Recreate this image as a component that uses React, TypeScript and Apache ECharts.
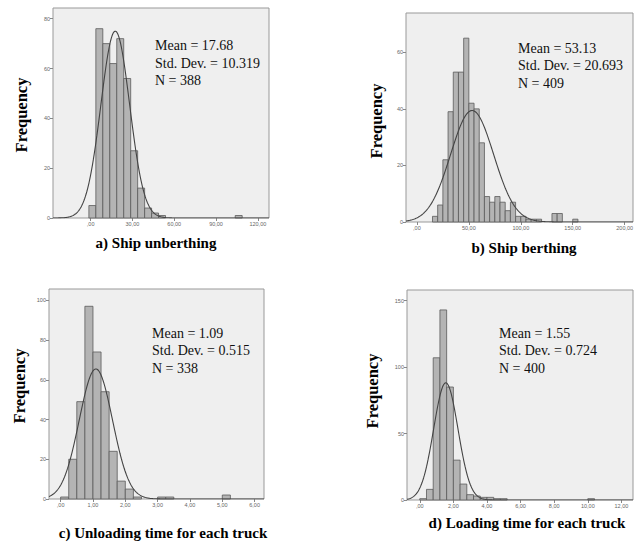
import React, { useEffect, useRef } from "react";
import * as echarts from "echarts";

// ---- Data ----
const captions = [
  "a) Ship unberthing",
  "b) Ship berthing",
  "c) Unloading time for each truck",
  "d) Loading time for each truck",
];
const means = [17.68, 53.13, 1.09, 1.55];
const stdDevs = [10.319, 20.693, 0.515, 0.724];
const sampleSizes = [388, 409, 338, 400];
const binWidths = [5, 5, 0.25, 0.4];

const unberthBinStarts = [-1.25, 3.75, 8.75, 13.75, 18.75, 23.75, 28.75, 33.75, 38.75, 43.75, 48.75, 103.75];
const unberthCounts = [5, 76, 70, 62, 72, 56, 27, 12, 4, 2, 1, 1];

const berthBinStarts = [15, 20, 25, 30, 35, 40, 45, 50, 55, 60, 65, 70, 75, 80, 85, 90, 95, 100, 105, 110, 115, 130, 135, 150];
const berthCounts = [2, 6, 22, 39, 53, 53, 65, 42, 40, 28, 9, 7, 9, 7, 4, 7, 2, 2, 1, 1, 1, 3, 3, 1];

const unloadBinStarts = [0, 0.25, 0.5, 0.75, 1.0, 1.25, 1.5, 1.75, 2.0, 2.25, 3.0, 3.25, 5.0];
const unloadCounts = [1, 20, 49, 97, 74, 54, 24, 9, 5, 1, 1, 1, 2];

const loadBinStarts = [0, 0.4, 0.8, 1.2, 1.6, 2.0, 2.4, 2.8, 3.2, 3.6, 4.0, 4.4, 4.8, 10.0];
const loadCounts = [1, 8, 107, 143, 85, 30, 12, 4, 3, 2, 2, 1, 1, 1];

const xTickValues = [
  [0, 30, 60, 90, 120],
  [0, 50, 100, 150, 200],
  [0, 1, 2, 3, 4, 5, 6],
  [0, 2, 4, 6, 8, 10, 12],
];
const yTickValues = [
  [0, 20, 40, 60, 80],
  [0, 20, 40, 60],
  [0, 20, 40, 60, 80, 100],
  [0, 50, 100, 150],
];
const xRanges = [
  [-27, 128],
  [-10.5, 208],
  [-0.36, 6.29],
  [-0.76, 12.69],
];
const yMaxes = [84.3, 73.9, 105.7, 158];

const binStartsAll = [unberthBinStarts, berthBinStarts, unloadBinStarts, loadBinStarts];
const countsAll = [unberthCounts, berthCounts, unloadCounts, loadCounts];

// ---- Layout ----
const grids = [
  { left: 53, top: 8, width: 216, height: 210 },
  { left: 406, top: 13, width: 227, height: 209 },
  { left: 49, top: 289, width: 215, height: 210 },
  { left: 407, top: 290, width: 226, height: 210 },
];
const freqPos = [
  [21, 115],
  [376, 121],
  [19, 386],
  [372, 391],
];
const captionPos = [
  [156, 243],
  [524, 248],
  [163, 533],
  [527, 523],
];
const statsPos = [
  [155, 37],
  [518, 39.6],
  [152, 324.6],
  [499, 324.6],
];

const SERIF = "'Liberation Serif', 'Times New Roman', serif";

function fmtTick(v: number) {
  if (v === 0) return ",00";
  return v.toFixed(2).replace(".", ",");
}

function normalCurve(i: number) {
  const [lo, hi] = xRanges[i];
  const m = means[i];
  const s = stdDevs[i];
  const scale = (sampleSizes[i] * binWidths[i]) / (s * Math.sqrt(2 * Math.PI));
  const pts: number[][] = [];
  const n = 300;
  for (let k = 0; k <= n; k++) {
    const x = lo + ((hi - lo) * k) / n;
    const z = (x - m) / s;
    pts.push([x, scale * Math.exp(-0.5 * z * z)]);
  }
  return pts;
}

export default function App() {
  const ref = useRef<HTMLDivElement>(null);
  useEffect(() => {
    if (!ref.current) return;
    const chart = echarts.init(ref.current, undefined, { renderer: "svg" });
    const xAxis: any[] = [];
    const yAxis: any[] = [];
    const series: any[] = [];
    const graphic: any[] = [];
    for (let i = 0; i < 4; i++) {
      xAxis.push({
        type: "value",
        gridIndex: i,
        position: "bottom",
        min: xRanges[i][0],
        max: xRanges[i][1],
        axisLine: { show: false, onZero: false },
        splitLine: { show: false },
        axisTick: {
          show: true,
          length: 3,
          lineStyle: { color: "#888" },
          customValues: xTickValues[i],
        },
        axisLabel: {
          customValues: xTickValues[i],
          formatter: (v: number) => fmtTick(v),
          fontSize: 5.5,
          color: "#666",
          margin: 3,
          fontFamily: "'Liberation Sans', Arial, sans-serif",
        },
      });
      yAxis.push({
        type: "value",
        gridIndex: i,
        position: "left",
        min: 0,
        max: yMaxes[i],
        axisLine: { show: false, onZero: false },
        splitLine: { show: false },
        axisTick: {
          show: true,
          length: 3,
          lineStyle: { color: "#888" },
          customValues: yTickValues[i],
        },
        axisLabel: {
          customValues: yTickValues[i],
          fontSize: 5.5,
          color: "#666",
          margin: 3,
          fontFamily: "'Liberation Sans', Arial, sans-serif",
        },
      });
      const bw = binWidths[i];
      const data = binStartsAll[i].map((s, k) => [s, s + bw, countsAll[i][k]]);
      series.push({
        type: "custom",
        xAxisIndex: i,
        yAxisIndex: i,
        encode: { x: [0, 1], y: 2 },
        data,
        z: 2,
        renderItem: (_p: any, api: any) => {
          const p0 = api.coord([api.value(0), api.value(2)]);
          const p1 = api.coord([api.value(1), 0]);
          return {
            type: "rect",
            shape: { x: p0[0], y: p0[1], width: p1[0] - p0[0], height: p1[1] - p0[1] },
            style: { fill: "#b4b4b4", stroke: "#5a5a5a", lineWidth: 0.8 },
          };
        },
      });
      series.push({
        type: "line",
        xAxisIndex: i,
        yAxisIndex: i,
        data: normalCurve(i),
        symbol: "none",
        showSymbol: false,
        z: 3,
        lineStyle: { color: "#444", width: 1.1 },
      });
      graphic.push({
        type: "text",
        x: freqPos[i][0],
        y: freqPos[i][1],
        rotation: Math.PI / 2,
        style: {
          text: "Frequency",
          font: `bold 16.5px ${SERIF}`,
          fill: "#000",
          textAlign: "center",
          textVerticalAlign: "middle",
        },
      });
      graphic.push({
        type: "text",
        x: captionPos[i][0],
        y: captionPos[i][1],
        style: {
          text: captions[i],
          font: `bold 15px ${SERIF}`,
          fill: "#000",
          textAlign: "center",
          textVerticalAlign: "middle",
        },
      });
      graphic.push({
        type: "text",
        x: statsPos[i][0],
        y: statsPos[i][1],
        z: 10,
        style: {
          text:
            `Mean = ${means[i]}\n` +
            `Std. Dev. = ${stdDevs[i].toFixed(3)}\n` +
            `N = ${sampleSizes[i]}`,
          font: `14px ${SERIF}`,
          lineHeight: 17.5,
          fill: "#111",
          textAlign: "left",
          textVerticalAlign: "top",
        },
      });
    }
    chart.setOption({
      animation: false,
      backgroundColor: "#ffffff",
      grid: grids.map((g) => ({
        ...g,
        show: true,
        backgroundColor: "#efefef",
        borderColor: "#999",
        borderWidth: 1,
        containLabel: false,
      })),
      xAxis,
      yAxis,
      series,
      graphic,
    });
    return () => chart.dispose();
  }, []);
  return (
    <div
      ref={ref}
      style={{ position: "absolute", left: 0, top: 0, width: 637, height: 543 }}
    />
  );
}
